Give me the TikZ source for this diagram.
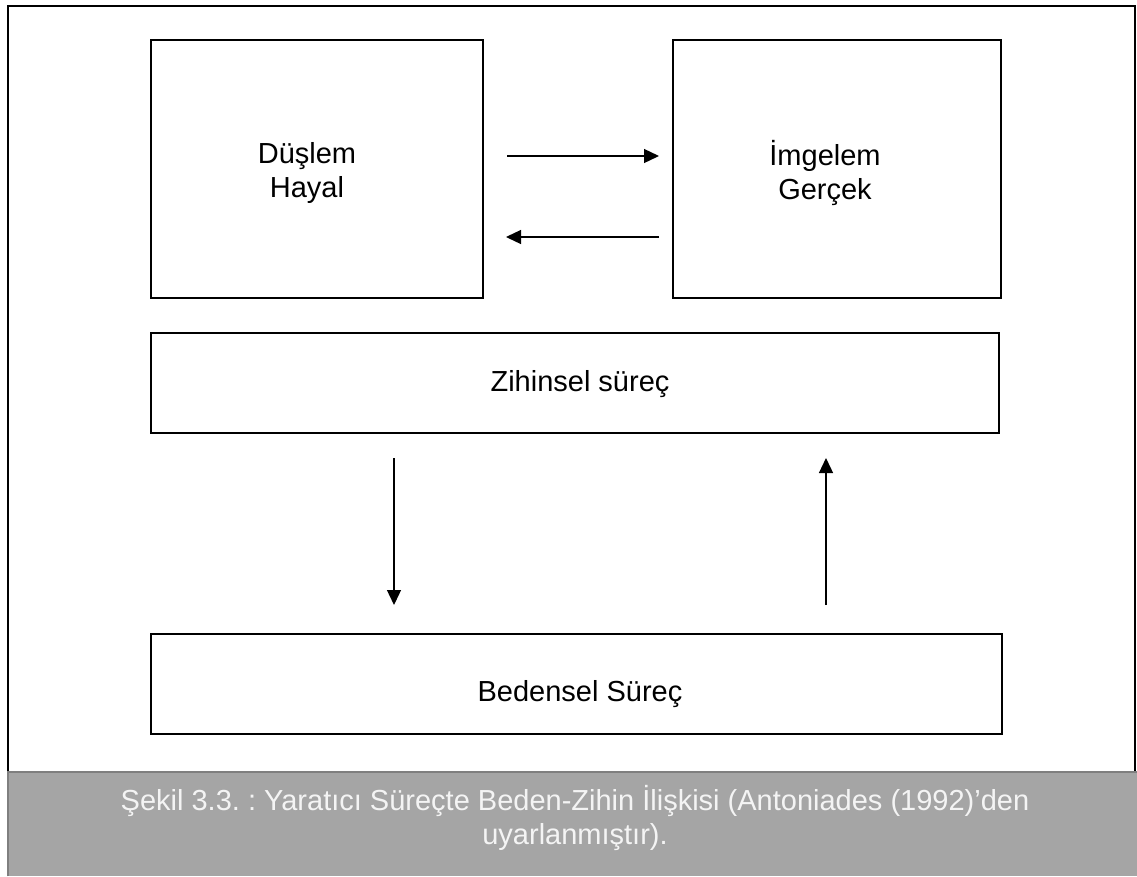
\documentclass[tikz,border=0pt]{standalone}
\usepackage{fontspec}
\setmainfont{Liberation Sans}
\usetikzlibrary{arrows.meta}
\frenchspacing
\definecolor{capfill}{HTML}{A5A5A5}
\definecolor{capedge}{HTML}{7F7F7F}
\definecolor{captext}{HTML}{F4F4F4}
\tikzset{
  box/.style={draw=black, line width=2pt, fill=white, inner sep=0pt},
  lbl/.style={font=\fontsize{29}{34}\selectfont, align=center, inner sep=0pt},
  flow/.style={line width=1.3pt, -{Triangle[length=15pt,width=14pt]}},
}
\begin{document}
\begin{tikzpicture}[x=1pt,y=-1pt]
\useasboundingbox (0,0) rectangle (1137,876);
% outer frame and caption band
\fill[white] (0,0) rectangle (1137,876);
\draw[line width=2pt] (8,876) -- (8,6) -- (1135,6) -- (1135,772);
\fill[capfill] (8,772) rectangle (1137,876);
\draw[capedge, line width=1.5pt] (8,876) -- (8,772) -- (1137,772);
\node[lbl, text=captext] (cap) at (575,818)
  {Şekil 3.3. : Yaratıcı Süreçte Beden-Zihin İlişkisi (Antoniades (1992)’den\\uyarlanmıştır).};

% boxes
\node[box, minimum width=332pt, minimum height=258pt] (dus) at (317,169) {};
\node[box, minimum width=328pt, minimum height=258pt] (img) at (837,169) {};
\node[box, minimum width=848pt, minimum height=100pt] (zih) at (575,383) {};
\node[box, minimum width=851pt, minimum height=100pt] (bed) at (576.5,684) {};

% labels
\node[lbl] (dusT) at (307,173) {Düşlem\\Hayal};
\node[lbl] (imgT) at (825,173) {İmgelem\\Gerçek};
\node[lbl] (zihT) at (580,384) {Zihinsel süreç};
\node[lbl] (bedT) at (580,694) {Bedensel Süreç};

% connector ends
\coordinate (a1) at (507,156);
\coordinate (a2) at (659,156);
\coordinate (b1) at (659,237);
\coordinate (b2) at (506,237);
\coordinate (c1) at (394,458);
\coordinate (c2) at (394,605);
\coordinate (d1) at (826,605);
\coordinate (d2) at (826,458);

\draw[flow] (a1) -- (a2);
\draw[flow] (b1) -- (b2);
\draw[flow] (c1) -- (c2);
\draw[flow] (d1) -- (d2);
\end{tikzpicture}
\end{document}
